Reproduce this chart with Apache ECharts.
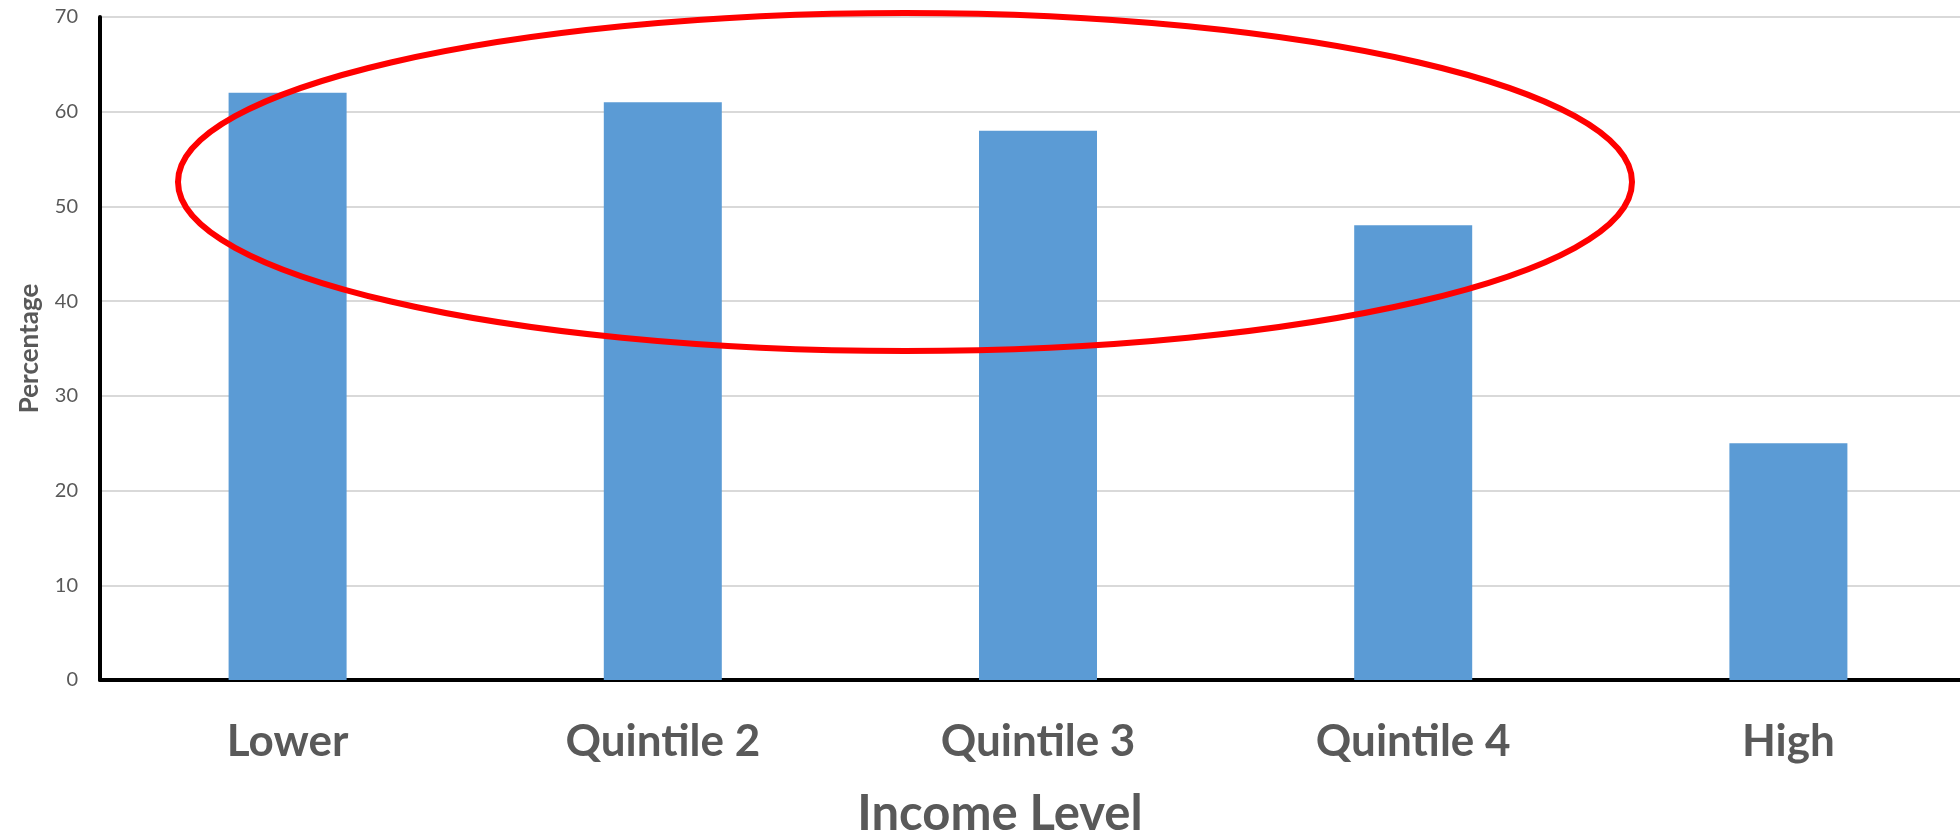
<!DOCTYPE html>
<html>
<head>
<meta charset="utf-8">
<script src="https://cdn.jsdelivr.net/npm/echarts@6/dist/echarts.min.js"></script>
<style>html,body{margin:0;padding:0;background:#fff}#c{width:1960px;height:834px}</style>
</head>
<body>
<div id="c"></div>
<script>
var categories = ['Lower', 'Quintile 2', 'Quintile 3', 'Quintile 4', 'High'];
var percentages = [62, 61, 58, 48, 25];
var yTicks = [0, 10, 20, 30, 40, 50, 60, 70];

var chart = echarts.init(document.getElementById('c'));
chart.setOption({
  animation: false,
  backgroundColor: '#ffffff',
  grid: { left: 100, top: 17, width: 1876, height: 663, containLabel: false, outerBoundsMode: 'none' },
  xAxis: {
    type: 'category',
    data: categories,
    name: 'Income Level',
    nameLocation: 'middle',
    nameGap: 110,
    nameTextStyle: { fontFamily: 'Lato', fontWeight: 'bold', fontSize: 49, color: '#595959', padding: [0, 76, 0, 0] },
    axisLine: { show: true, lineStyle: { color: '#000000', width: 4 } },
    axisTick: { show: false },
    axisLabel: { fontFamily: 'Lato', fontWeight: 'bold', fontSize: 44, color: '#595959', margin: 40 },
    splitLine: { show: false }
  },
  yAxis: {
    type: 'value',
    min: yTicks[0],
    max: yTicks[yTicks.length - 1],
    interval: 10,
    name: 'Percentage',
    nameLocation: 'middle',
    nameRotate: 90,
    nameGap: 57,
    nameTextStyle: { fontFamily: 'Lato', fontWeight: 'bold', fontSize: 26, color: '#595959' },
    axisLine: { show: true, lineStyle: { color: '#000000', width: 4 } },
    axisTick: { show: false },
    axisLabel: { fontFamily: 'Lato', fontSize: 20, color: '#595959', margin: 22 },
    splitLine: { show: true, lineStyle: { color: '#d9d9d9', width: 2 } }
  },
  series: [{
    type: 'bar',
    data: percentages,
    barWidth: 118,
    itemStyle: { color: '#5b9bd5' }
  }],
  graphic: [{
    type: 'ellipse',
    z: 100,
    shape: { cx: 905, cy: 182, rx: 727, ry: 169 },
    style: { fill: 'none', stroke: '#ff0000', lineWidth: 6 }
  }]
});
</script>
</body>
</html>
